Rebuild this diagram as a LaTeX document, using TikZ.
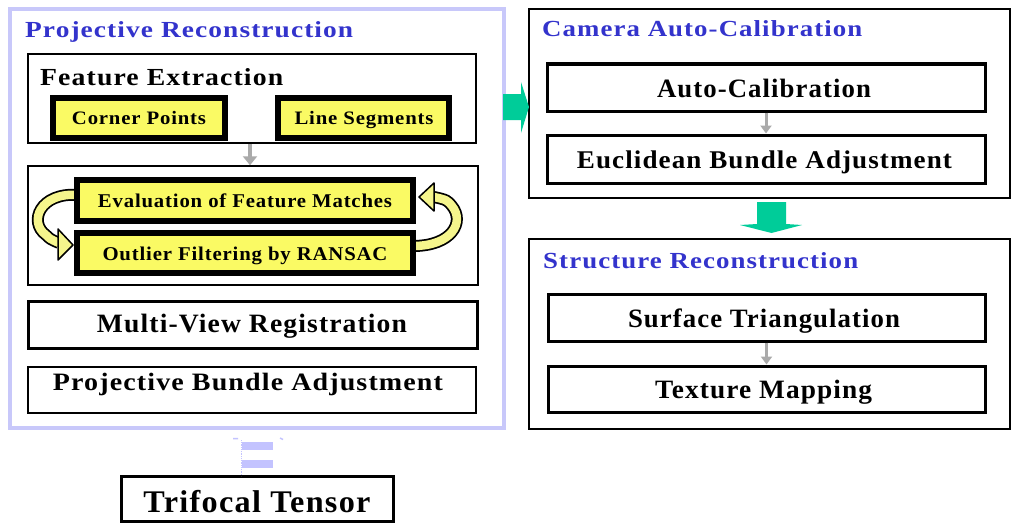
\documentclass[tikz,border=0pt]{standalone}
\usepackage{fontspec}
\setmainfont{Liberation Serif}[LetterSpace=4]
\usepackage{graphicx}
\usetikzlibrary{arrows.meta}

\definecolor{framelav}{RGB}{200,200,250}
\definecolor{marklav}{RGB}{195,195,255}
\definecolor{titleblue}{RGB}{51,51,204}
\definecolor{stepyellow}{RGB}{250,250,100}
\definecolor{ribbonyellow}{RGB}{245,245,140}
\definecolor{flowgreen}{RGB}{0,204,153}
\definecolor{linkgray}{RGB}{170,170,170}

% stretch a label horizontally to a given width, keeping its height
\newcommand\fitw[2]{\resizebox{#1}{\height}{#2}}

\begin{document}
\begin{tikzpicture}[x=1pt,y=-1pt,
  box/.style={draw=black, fill=white, inner sep=0pt},
  thinbox/.style={box, line width=1.5pt},
  midbox/.style={box, line width=3pt},
  stepbox/.style={box, fill=stepyellow, line width=6pt},
  lbl/.style={anchor=base, inner sep=0pt, font=\bfseries},
  ttl/.style={anchor=base west, inner sep=0pt, text=titleblue, font=\bfseries\fontsize{23}{25}\selectfont},
  link/.style={draw=linkgray, line width=4pt, -{Triangle[width=14pt,length=9pt]}},
  slink/.style={draw=linkgray, line width=3pt, -{Triangle[width=11pt,length=8pt]}},
]
\useasboundingbox (0,0) rectangle (1027,527);
\fill[white] (0,0) rectangle (1027,527);

% ---------- projective reconstruction ----------
\node[draw=framelav, line width=4pt, inner sep=0pt, minimum width=494pt, minimum height=419pt] (frame) at (257,218.5) {};
\node[ttl] (ttlproj) at (25,38) {\fitw{328pt}{Projective Reconstruction}};

\node[thinbox, minimum width=448pt, minimum height=89pt] (feat) at (252,98.5) {};
\node[anchor=base west, inner sep=0pt, font=\bfseries\fontsize{24.5}{26}\selectfont] (featlbl) at (40,85) {\fitw{243pt}{Feature Extraction}};
\node[stepbox, minimum width=172pt, minimum height=40pt] (corner) at (139,118) {};
\node[lbl, font=\bfseries\fontsize{19}{21}\selectfont] (cornerlbl) at (139,124) {\fitw{134pt}{Corner Points}};
\node[stepbox, minimum width=171pt, minimum height=40pt] (lineseg) at (363.5,118) {};
\node[lbl, font=\bfseries\fontsize{19}{21}\selectfont] (lineseglbl) at (364,124) {\fitw{139pt}{Line Segments}};

\node[thinbox, minimum width=450pt, minimum height=119pt] (match) at (253,225.5) {};

% cycling ribbons between the two matching steps
\draw[line width=12pt] (78,195) .. controls (40,192) and (28,222) .. (46,235) .. controls (50,239) .. (59,243);
\draw[line width=8.5pt, ribbonyellow] (78,195) .. controls (40,192) and (28,222) .. (46,235) .. controls (50,239) .. (59,243);
\filldraw[fill=ribbonyellow, draw=black, line width=1.5pt, line join=round] (58,229) -- (73,245) -- (58,260) -- cycle;
\draw[line width=12pt] (413,246) .. controls (452,246) and (465,222) .. (452,206) .. controls (447,200) .. (434,197);
\draw[line width=8.5pt, ribbonyellow] (413,246) .. controls (452,246) and (465,222) .. (452,206) .. controls (447,200) .. (434,197);
\filldraw[fill=ribbonyellow, draw=black, line width=1.5pt, line join=round] (434,183) -- (419,197) -- (434,211) -- cycle;

\node[stepbox, minimum width=336pt, minimum height=41pt] (eval) at (245,200.5) {};
\node[lbl, font=\bfseries\fontsize{19.5}{21}\selectfont] (evallbl) at (245,207) {\fitw{294pt}{Evaluation of Feature Matches}};
\node[stepbox, minimum width=336pt, minimum height=40pt] (outlier) at (245,253) {};
\node[lbl, font=\bfseries\fontsize{19.5}{21}\selectfont] (outlierlbl) at (245,260) {\fitw{285pt}{Outlier Filtering by RANSAC}};

\draw[link] (feat.south -| 250,0) -- (match.north -| 250,0);

\node[midbox, minimum width=449pt, minimum height=47pt] (mvr) at (253,325) {};
\node[lbl, font=\bfseries\fontsize{26.5}{28}\selectfont] (mvrlbl) at (252,332) {\fitw{310pt}{Multi-View Registration}};
\node[box, line width=2pt, minimum width=448pt, minimum height=46pt] (pba) at (252,390) {};
\node[lbl, font=\bfseries\fontsize{25}{27}\selectfont] (pbalbl) at (248,390) {\fitw{390pt}{Projective Bundle Adjustment}};

% ---------- trifocal tensor ----------
\node[midbox, minimum width=272pt, minimum height=45pt] (tri) at (257.5,499) {};
\node[lbl, font=\bfseries\fontsize{31.5}{33}\selectfont] (trilbl) at (257,512) {\fitw{227pt}{Trifocal Tensor}};
\fill[marklav] (242,442) rectangle (273,450);
\fill[marklav] (242,460) rectangle (273,468);
\draw[marklav, line width=1.5pt] (233,438.5) -- (238,438.5) (280,438) -- (283,439.5);
\draw[marklav, line width=0.8pt, densely dotted] (241.5,440) -- (241.5,476);

% ---------- camera auto-calibration ----------
\node[box, line width=2.5pt, minimum width=481pt, minimum height=189pt] (cam) at (769.5,103.5) {};
\node[ttl] (ttlcam) at (542,37) {\fitw{320pt}{Camera Auto-Calibration}};
\node[midbox, minimum width=438pt, minimum height=47pt] (autocal) at (766,87.5) {};
\node[lbl, font=\bfseries\fontsize{26.5}{28}\selectfont] (autocallbl) at (764,97) {\fitw{214pt}{Auto-Calibration}};
\node[midbox, minimum width=438pt, minimum height=48pt] (euclid) at (766,159) {};
\node[lbl, font=\bfseries\fontsize{25.5}{27}\selectfont] (euclidlbl) at (764.5,168) {\fitw{375pt}{Euclidean Bundle Adjustment}};
\draw[slink] (autocal.south) -- (euclid.north);

% ---------- structure reconstruction ----------
\node[box, line width=2.5pt, minimum width=481pt, minimum height=190pt] (str) at (769.5,334) {};
\node[ttl] (ttlstr) at (543,268) {\fitw{315pt}{Structure Reconstruction}};
\node[midbox, minimum width=437pt, minimum height=47pt] (surf) at (766.5,317.5) {};
\node[lbl, font=\bfseries\fontsize{26.5}{28}\selectfont] (surflbl) at (764,327) {\fitw{272pt}{Surface Triangulation}};
\node[midbox, minimum width=437pt, minimum height=46pt] (tex) at (766.5,389) {};
\node[lbl, font=\bfseries\fontsize{26.5}{28}\selectfont] (texlbl) at (763.5,398) {\fitw{217pt}{Texture Mapping}};
\draw[slink] (surf.south) -- (tex.north);

% ---------- block arrows between stages ----------
\fill[flowgreen] (503,94) -- (521,94) -- (521,82) -- (529,107) -- (521,133) -- (521,120) -- (503,120) -- cycle;
\fill[flowgreen] (757,202) -- (786,202) -- (786,224) -- (802,225) -- (771.5,233) -- (740,225) -- (757,224) -- cycle;
\end{tikzpicture}
\end{document}
